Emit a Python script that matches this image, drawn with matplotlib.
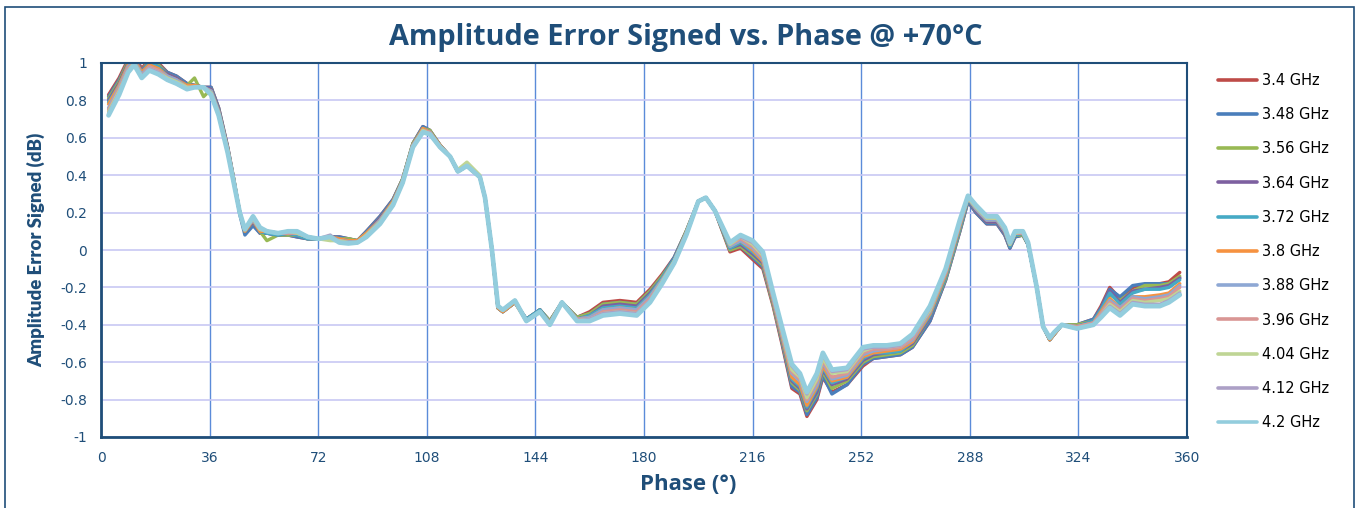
import matplotlib
matplotlib.use("Agg")
import matplotlib.pyplot as plt
from matplotlib.patches import Rectangle

phase = [2.5, 6, 9, 11, 13.5, 16, 19, 22, 25, 28.5, 31, 34, 36.5, 39, 42, 44, 46, 47.7, 50.4, 52.7,
         55, 58.7, 62, 65, 68.5, 72, 76, 79, 82, 85, 88, 92.5, 96.8, 100, 103.4, 106.7, 109, 112.4, 115.7, 118.3,
         121.3, 125.6, 127.3, 129.6, 131.6, 133.2, 137.2, 141, 145.5, 148.8, 152.8, 157.8, 162, 166.4, 172, 177.6, 182, 186, 190, 194,
         198, 200.5, 203.5, 208.5, 212, 216, 219.4, 222.8, 225.7, 229, 231.7, 234, 237.3, 239.3, 242.3, 247.3, 252.6, 256, 260.5, 265,
         269, 274.8, 280, 284.7, 287.4, 290, 293.6, 297, 299.6, 301.3, 303, 305.6, 307.3, 310.2, 312.3, 314.5, 316, 318.5, 323.5, 329,
         331.5, 334.4, 337.8, 342, 346, 351, 354, 357.6]

f_3_40 = [.83,.92,1.02,1.04,.97,1.02,1.00,.95,.93,.89,.88,.87,.87,.76,.55,.38,.20,.10,.14,.09,
          .09,.08,.08,.07,.06,.06,.07,.07,.06,.05,.10,.18,.27,.38,.57,.66,.64,.56,.50,.42,
          .45,.39,.28,.00,-.31,-.33,-.28,-.37,-.32,-.38,-.28,-.36,-.33,-.28,-.27,-.28,-.21,-.13,-.04,.10,
          .26,.28,.21,-.01,.01,-.05,-.10,-.30,-.50,-.74,-.77,-.89,-.80,-.68,-.76,-.72,-.62,-.58,-.57,-.56,
          -.52,-.38,-.16,.10,.26,.20,.14,.14,.08,.01,.07,.08,.03,-.20,-.41,-.48,-.45,-.40,-.40,-.37,
          -.30,-.20,-.26,-.20,-.19,-.18,-.17,-.12]
f_3_48 = [.82,.91,1.01,1.03,.96,1.01,.99,.95,.93,.89,.88,.87,.87,.76,.55,.38,.19,.08,.13,.09,
          .09,.08,.08,.07,.06,.06,.07,.07,.06,.05,.10,.18,.27,.38,.57,.66,.64,.56,.50,.42,
          .45,.39,.28,.00,-.31,-.33,-.28,-.37,-.32,-.38,-.28,-.36,-.34,-.29,-.28,-.29,-.22,-.14,-.04,.10,
          .26,.28,.21,.00,.02,-.04,-.09,-.29,-.49,-.73,-.76,-.88,-.79,-.67,-.77,-.72,-.61,-.58,-.57,-.56,
          -.52,-.38,-.16,.10,.26,.20,.14,.14,.08,.01,.07,.08,.03,-.20,-.41,-.48,-.45,-.40,-.40,-.37,
          -.31,-.21,-.25,-.19,-.18,-.18,-.18,-.15]
f_3_56 = [.81,.90,1.01,1.03,.96,1.01,.99,.94,.92,.88,.92,.82,.86,.75,.54,.38,.20,.10,.15,.10,
          .05,.08,.08,.08,.06,.06,.07,.06,.06,.05,.09,.17,.26,.38,.57,.65,.64,.56,.50,.42,
          .45,.39,.28,.00,-.31,-.33,-.28,-.37,-.32,-.38,-.28,-.36,-.34,-.29,-.28,-.29,-.22,-.14,-.05,.10,
          .26,.28,.21,.00,.02,-.03,-.08,-.29,-.48,-.71,-.75,-.86,-.77,-.65,-.74,-.70,-.60,-.57,-.56,-.55,
          -.51,-.36,-.15,.11,.27,.21,.15,.15,.09,.02,.08,.08,.03,-.20,-.41,-.48,-.45,-.40,-.40,-.38,
          -.33,-.24,-.27,-.22,-.19,-.19,-.18,-.14]
f_3_64 = [.80,.89,1.00,1.03,.96,1.00,.98,.94,.92,.88,.88,.87,.86,.75,.54,.37,.20,.10,.15,.10,
          .09,.08,.09,.08,.06,.06,.07,.06,.05,.05,.09,.17,.26,.37,.56,.65,.63,.56,.50,.42,
          .45,.39,.28,.00,-.31,-.33,-.28,-.37,-.32,-.39,-.28,-.37,-.35,-.30,-.29,-.30,-.23,-.15,-.05,.09,
          .26,.28,.21,.01,.03,-.02,-.07,-.28,-.47,-.70,-.74,-.85,-.76,-.64,-.72,-.69,-.59,-.56,-.55,-.54,
          -.50,-.36,-.14,.12,.27,.21,.15,.15,.09,.02,.08,.09,.03,-.20,-.41,-.48,-.45,-.40,-.41,-.38,
          -.32,-.22,-.28,-.22,-.21,-.20,-.19,-.15]
f_3_72 = [.79,.88,.99,1.02,.95,1.00,.98,.93,.91,.88,.88,.87,.85,.74,.54,.37,.20,.10,.16,.10,
          .09,.08,.09,.08,.06,.06,.07,.06,.05,.05,.09,.16,.26,.37,.56,.65,.63,.56,.50,.42,
          .45,.39,.28,.00,-.31,-.33,-.28,-.37,-.32,-.39,-.28,-.37,-.35,-.31,-.30,-.31,-.24,-.15,-.05,.09,
          .26,.28,.21,.01,.04,-.01,-.06,-.27,-.46,-.69,-.73,-.84,-.74,-.63,-.71,-.68,-.58,-.55,-.55,-.54,
          -.49,-.35,-.14,.12,.27,.22,.16,.16,.10,.02,.08,.09,.03,-.20,-.41,-.48,-.45,-.40,-.41,-.38,
          -.32,-.23,-.29,-.23,-.21,-.21,-.20,-.16]
f_3_80 = [.78,.88,.99,1.02,.95,.99,.97,.93,.91,.88,.88,.87,.85,.74,.54,.37,.20,.10,.16,.10,
          .10,.09,.09,.09,.07,.06,.07,.06,.05,.05,.09,.16,.26,.37,.56,.65,.63,.56,.50,.42,
          .45,.39,.28,.00,-.31,-.33,-.28,-.38,-.33,-.39,-.28,-.37,-.36,-.32,-.31,-.32,-.25,-.16,-.06,.09,
          .26,.28,.21,.02,.05,.00,-.06,-.27,-.46,-.68,-.72,-.83,-.73,-.62,-.70,-.68,-.57,-.55,-.54,-.53,
          -.49,-.34,-.13,.13,.28,.22,.16,.16,.10,.03,.09,.09,.04,-.20,-.41,-.48,-.45,-.40,-.41,-.39,
          -.33,-.26,-.31,-.25,-.25,-.24,-.23,-.18]
f_3_88 = [.76,.87,.98,1.01,.94,.98,.96,.93,.91,.87,.87,.87,.85,.74,.53,.37,.20,.11,.16,.11,
          .10,.09,.09,.09,.07,.06,.07,.05,.045,.04,.08,.16,.25,.37,.56,.64,.63,.55,.50,.42,
          .45,.39,.28,.00,-.30,-.32,-.27,-.38,-.33,-.39,-.28,-.37,-.36,-.32,-.31,-.32,-.25,-.16,-.06,.09,
          .26,.28,.21,.02,.05,.01,-.05,-.26,-.45,-.66,-.70,-.81,-.72,-.60,-.69,-.67,-.56,-.54,-.53,-.52,
          -.48,-.33,-.12,.14,.28,.22,.16,.16,.10,.03,.09,.09,.04,-.20,-.41,-.47,-.44,-.40,-.41,-.39,
          -.34,-.27,-.31,-.25,-.26,-.25,-.24,-.19]
f_3_96 = [.75,.86,.97,1.00,.93,.98,.96,.92,.90,.87,.87,.87,.84,.73,.53,.37,.20,.11,.17,.11,
          .10,.09,.09,.09,.07,.06,.07,.05,.04,.04,.08,.15,.25,.37,.56,.64,.63,.55,.50,.42,
          .45,.39,.28,.00,-.30,-.32,-.27,-.38,-.33,-.39,-.28,-.37,-.37,-.33,-.32,-.33,-.26,-.17,-.06,.09,
          .26,.28,.21,.03,.06,.02,-.04,-.25,-.44,-.65,-.69,-.80,-.70,-.59,-.68,-.66,-.55,-.53,-.53,-.52,
          -.47,-.32,-.12,.14,.28,.23,.17,.17,.11,.03,.09,.09,.04,-.20,-.41,-.47,-.44,-.40,-.41,-.39,
          -.34,-.28,-.32,-.26,-.27,-.26,-.25,-.20]
f_4_04 = [.74,.85,.96,1.00,.93,.97,.95,.92,.90,.87,.87,.87,.84,.73,.53,.36,.20,.11,.17,.11,
          .10,.09,.10,.09,.07,.06,.05,.05,.04,.04,.08,.15,.25,.36,.55,.64,.62,.55,.50,.43,
          .47,.40,.28,.00,-.30,-.32,-.27,-.38,-.33,-.40,-.28,-.38,-.37,-.34,-.33,-.34,-.27,-.17,-.06,.08,
          .26,.28,.21,.03,.07,.03,-.03,-.24,-.43,-.64,-.68,-.79,-.69,-.58,-.66,-.65,-.54,-.52,-.52,-.51,
          -.46,-.32,-.11,.15,.28,.23,.17,.17,.11,.03,.09,.10,.04,-.20,-.41,-.47,-.44,-.40,-.42,-.40,
          -.35,-.29,-.33,-.27,-.28,-.27,-.26,-.22]
f_4_12 = [.73,.84,.96,.99,.93,.97,.95,.91,.89,.86,.87,.87,.83,.72,.52,.36,.20,.11,.18,.12,
          .10,.09,.10,.10,.07,.06,.08,.04,.04,.04,.07,.14,.24,.36,.55,.63,.62,.55,.50,.42,
          .45,.39,.28,.00,-.30,-.32,-.27,-.38,-.33,-.40,-.28,-.38,-.37,-.34,-.33,-.34,-.27,-.18,-.07,.08,
          .26,.28,.21,.04,.07,.04,-.02,-.24,-.42,-.62,-.67,-.77,-.67,-.56,-.65,-.64,-.53,-.52,-.52,-.51,
          -.46,-.31,-.11,.15,.29,.24,.18,.18,.12,.04,.10,.10,.04,-.20,-.41,-.47,-.44,-.40,-.42,-.40,
          -.35,-.30,-.34,-.28,-.29,-.29,-.27,-.23]
f_4_20 = [.72,.83,.95,.99,.92,.96,.94,.91,.89,.86,.87,.87,.83,.72,.52,.36,.20,.11,.18,.12,
          .10,.09,.10,.10,.07,.06,.07,.04,.035,.04,.07,.14,.24,.36,.55,.63,.62,.55,.50,.42,
          .45,.39,.28,.00,-.30,-.32,-.27,-.38,-.33,-.40,-.28,-.38,-.38,-.35,-.34,-.35,-.28,-.18,-.07,.08,
          .26,.28,.21,.04,.08,.05,-.01,-.23,-.41,-.61,-.66,-.76,-.66,-.55,-.64,-.63,-.52,-.51,-.51,-.50,
          -.45,-.30,-.10,.16,.29,.24,.18,.18,.12,.04,.10,.10,.04,-.20,-.41,-.47,-.44,-.40,-.42,-.40,
          -.36,-.31,-.35,-.29,-.30,-.30,-.28,-.24]

series_labels = ["3.4 GHz", "3.48 GHz", "3.56 GHz", "3.64 GHz", "3.72 GHz", "3.8 GHz",
                 "3.88 GHz", "3.96 GHz", "4.04 GHz", "4.12 GHz", "4.2 GHz"]
series_values = [f_3_40, f_3_48, f_3_56, f_3_64, f_3_72, f_3_80, f_3_88, f_3_96, f_4_04, f_4_12, f_4_20]
series_colors = ["#BE4B48", "#4A7EBB", "#98B954", "#7D60A0", "#46AAC5", "#F69240",
                 "#8EA8D4", "#D99694", "#BFD595", "#ACA0C6", "#93CDDD"]

x_ticks = [0, 36, 72, 108, 144, 180, 216, 252, 288, 324, 360]
y_ticks = [-1, -0.8, -0.6, -0.4, -0.2, 0, 0.2, 0.4, 0.6, 0.8, 1]
y_tick_labels = ["-1", "-0.8", "-0.6", "-0.4", "-0.2", "0", "0.2", "0.4", "0.6", "0.8", "1"]

NAVY = "#1F4E79"
W, H = 1359, 508
fig = plt.figure(figsize=(W / 100, H / 100), dpi=100)
ax = fig.add_axes([101 / W, 1 - 437 / H, (1187 - 101) / W, (437 - 63) / H])

for vals, lab, col in zip(series_values, series_labels, series_colors):
    lw = 3.4 if lab == "4.2 GHz" else 2.4
    ax.plot(phase, vals, color=col, lw=lw, label=lab, solid_joinstyle="round", solid_capstyle="round")

ax.set_xlim(0, 360)
ax.set_ylim(-1, 1)
ax.set_xticks(x_ticks)
ax.set_yticks(y_ticks)
ax.set_yticklabels(y_tick_labels)
ax.tick_params(length=0, labelsize=10, labelcolor="#1F4E79", pad=10)
ax.grid(axis="y", color="#C8C8F4", lw=1.2)
ax.grid(axis="x", color="#5B8BD9", lw=1.0)
ax.set_axisbelow(True)
for side in ["top", "right"]:
    ax.spines[side].set_color(NAVY)
    ax.spines[side].set_linewidth(1.5)
for side in ["left", "bottom"]:
    ax.spines[side].set_color(NAVY)
    ax.spines[side].set_linewidth(2.0)

ax.set_xlabel("Phase (°)", fontsize=16, fontweight="bold", color=NAVY, family="Open Sans")
ax.xaxis.set_label_coords((688 - 101) / 1086, -(474 - 437) / 374)
ax.set_ylabel("Amplitude Error Signed (dB)", fontsize=13.4, fontweight="heavy", color=NAVY, family="Lato")
ax.yaxis.set_label_coords(-(101 - 45) / 1086, 0.5)
fig.text(686 / W, 1 - 38 / H, "Amplitude Error Signed vs. Phase @ +70°C", ha="center", va="center",
         fontsize=20.8, fontweight="bold", color=NAVY, family="Open Sans")

leg = ax.legend(loc="upper left", bbox_to_anchor=(1212 / W, 1 - 67 / H), bbox_transform=fig.transFigure,
                frameon=False, fontsize=10.5, handlelength=2.67, handletextpad=0.35, labelspacing=1.32,
                borderaxespad=0)
for line in leg.get_lines():
    line.set_linewidth(2.6)

fig.patches.append(Rectangle((5 / W, -0.05), (1354 - 5) / W, 1 - 7 / H + 0.05, transform=fig.transFigure,
                             fill=False, edgecolor=NAVY, lw=1.2))

fig.savefig("out.png", dpi=100)
